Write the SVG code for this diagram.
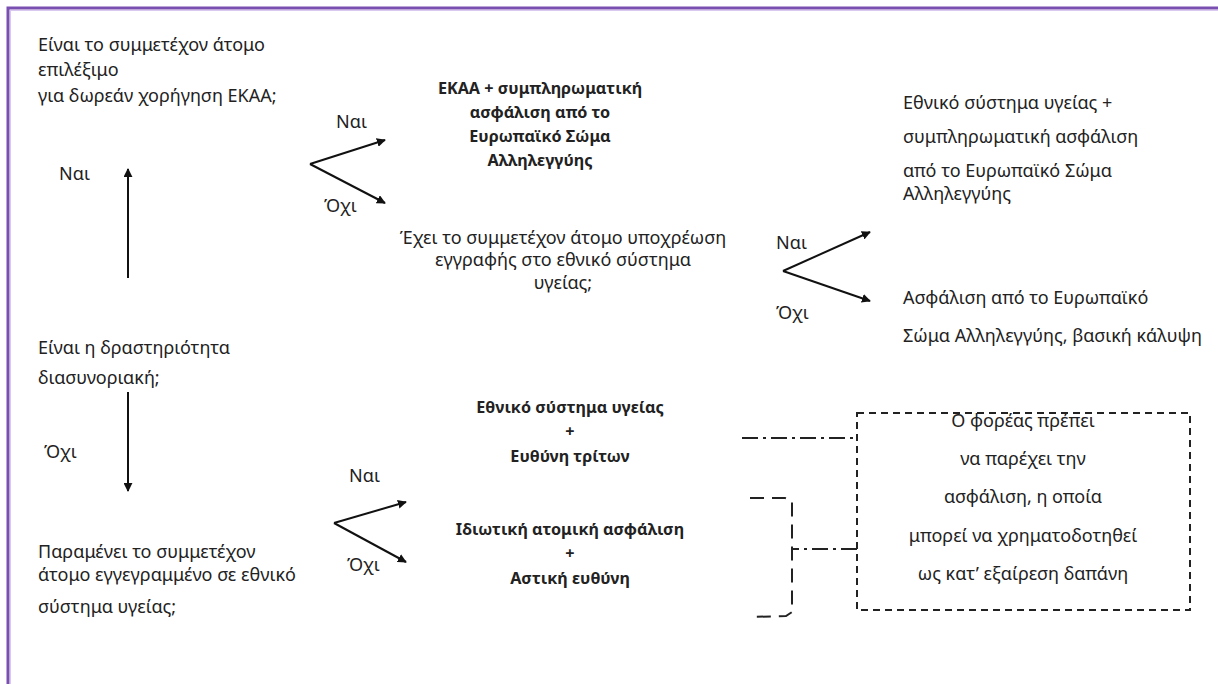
<svg xmlns="http://www.w3.org/2000/svg" width="1218" height="684" viewBox="0 0 1218 684">
<style>
text{font-family:"Noto Sans","Open Sans","DejaVu Sans",sans-serif;fill:#222;font-size:18px}
.b{font-weight:bold;font-size:16.2px}
.c{text-anchor:middle}
.ln{stroke:#111;stroke-width:2;fill:none}
.box{stroke:#222;stroke-width:2;fill:none;stroke-dasharray:7 5}
.dd{stroke:#222;stroke-width:2;fill:none;stroke-dasharray:16 5 3 5}
.br{stroke:#222;stroke-width:2;fill:none;stroke-dasharray:14 8}
</style>
<defs>
<marker id="ah" viewBox="0 0 10 10" refX="9" refY="5" markerWidth="4.5" markerHeight="4.5" orient="auto" markerUnits="strokeWidth">
<path d="M0,0 L10,5 L0,10 z" fill="#111"/>
</marker>
</defs>
<rect x="0" y="0" width="1218" height="684" fill="#fff"/>
<rect x="8" y="8" width="1230" height="700" fill="none" stroke="#7a4fb2" stroke-width="3"/>
<rect x="10.5" y="10.5" width="1230" height="700" fill="none" stroke="#d9c8ef" stroke-width="1"/>

<g id="q1">
<text x="38" y="51">Είναι το συμμετέχον άτομο</text>
<text x="38" y="76">επιλέξιμο</text>
<text x="38" y="102">για δωρεάν χορήγηση ΕΚΑΑ;</text>
</g>
<g id="r1">
<text class="b c" x="540" y="94">ΕΚΑΑ + συμπληρωματική</text>
<text class="b c" x="540" y="118">ασφάλιση από το</text>
<text class="b c" x="540" y="142">Ευρωπαϊκό Σώμα</text>
<text class="b c" x="540" y="166">Αλληλεγγύης</text>
</g>
<g id="q2">
<text class="c" x="563" y="244">Έχει το συμμετέχον άτομο υποχρέωση</text>
<text class="c" x="563" y="266">εγγραφής στο εθνικό σύστημα</text>
<text class="c" x="563" y="289">υγείας;</text>
</g>
<g id="r2">
<text x="903" y="109">Εθνικό σύστημα υγείας +</text>
<text x="903" y="143">συμπληρωματική ασφάλιση</text>
<text x="903" y="177">από το Ευρωπαϊκό Σώμα</text>
<text x="903" y="200">Αλληλεγγύης</text>
</g>
<g id="r3">
<text x="903" y="304">Ασφάλιση από το Ευρωπαϊκό</text>
<text x="903" y="342">Σώμα Αλληλεγγύης, βασική κάλυψη</text>
</g>
<g id="q3">
<text x="38" y="354">Είναι η δραστηριότητα</text>
<text x="38" y="384">διασυνοριακή;</text>
</g>
<g id="q4">
<text x="38" y="558">Παραμένει το συμμετέχον</text>
<text x="38" y="581">άτομο εγγεγραμμένο σε εθνικό</text>
<text x="38" y="613">σύστημα υγείας;</text>
</g>
<g id="r4">
<text class="b c" x="570" y="413">Εθνικό σύστημα υγείας</text>
<text class="b c" x="570" y="437">+</text>
<text class="b c" x="570" y="462">Ευθύνη τρίτων</text>
</g>
<g id="r5">
<text class="b c" x="570" y="535">Ιδιωτική ατομική ασφάλιση</text>
<text class="b c" x="570" y="559">+</text>
<text class="b c" x="570" y="584">Αστική ευθύνη</text>
</g>
<g id="note">
<rect class="box" x="857" y="413" width="333" height="197"/>
<text class="c" x="1023" y="427">Ο φορέας πρέπει</text>
<text class="c" x="1023" y="465">να παρέχει την</text>
<text class="c" x="1023" y="503">ασφάλιση, η οποία</text>
<text class="c" x="1023" y="542">μπορεί να χρηματοδοτηθεί</text>
<text class="c" x="1023" y="580">ως κατ’ εξαίρεση δαπάνη</text>
</g>

<g id="connectors">
<line class="ln" x1="128" y1="278" x2="128" y2="169" marker-end="url(#ah)"/>
<text x="59" y="180">Ναι</text>
<line class="ln" x1="310" y1="164" x2="385" y2="140" marker-end="url(#ah)"/>
<line class="ln" x1="310" y1="164" x2="385" y2="203" marker-end="url(#ah)"/>
<text x="336" y="128">Ναι</text>
<text x="324" y="212">Όχι</text>
<line class="ln" x1="783" y1="271" x2="870" y2="232" marker-end="url(#ah)"/>
<line class="ln" x1="783" y1="271" x2="870" y2="301" marker-end="url(#ah)"/>
<text x="776" y="249">Ναι</text>
<text x="776" y="319">Όχι</text>
<line class="ln" x1="128" y1="392" x2="128" y2="491" marker-end="url(#ah)"/>
<text x="44" y="458">Όχι</text>
<line class="ln" x1="334" y1="523" x2="406" y2="502" marker-end="url(#ah)"/>
<line class="ln" x1="334" y1="523" x2="406" y2="562" marker-end="url(#ah)"/>
<text x="349" y="482">Ναι</text>
<text x="347" y="571">Όχι</text>
<line class="dd" x1="742" y1="438" x2="857" y2="438"/>
<path class="br" d="M750,498 L785,498 L792,501 L792,612 L786,616 L750,617"/>
<line class="dd" x1="857" y1="549" x2="792" y2="549"/>
</g>
</svg>
